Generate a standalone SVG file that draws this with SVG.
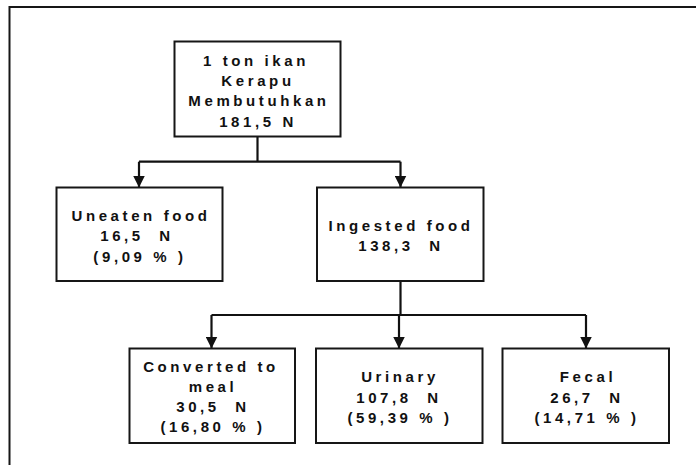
<svg xmlns="http://www.w3.org/2000/svg" width="696" height="465" viewBox="0 0 696 465">
<style>
.box{fill:#fff;stroke:#161616;stroke-width:2}
.frame{fill:none;stroke:#161616;stroke-width:2}
.con{fill:none;stroke:#111;stroke-width:2.2}
text{font-family:"Liberation Sans",Arial,sans-serif;font-size:15px;font-weight:bold;fill:#111;text-anchor:middle;letter-spacing:3.6px;white-space:pre}
</style>
<defs>
<marker id="arr" markerUnits="userSpaceOnUse" markerWidth="12" markerHeight="12" viewBox="0 0 12 12" refX="12" refY="6" orient="auto">
<path d="M0,0 L12,6 L0,12 Z" fill="#111"/>
</marker>
</defs>
<rect width="696" height="465" fill="#fff"/>
<path class="frame" d="M696,7 L9.5,7 L9.5,465"/>
<g id="connectors">
<path class="con" d="M257.5,137 V161.7"/>
<path class="con" d="M139,161.7 H400.5"/>
<path class="con" d="M139,161.7 V187.5" marker-end="url(#arr)"/>
<path class="con" d="M400.5,161.7 V187.5" marker-end="url(#arr)"/>
<path class="con" d="M400.5,281 V315"/>
<path class="con" d="M211.5,315 H586"/>
<path class="con" d="M211.5,315 V348.5" marker-end="url(#arr)"/>
<path class="con" d="M399,315 V348.5" marker-end="url(#arr)"/>
<path class="con" d="M586,315 V348.5" marker-end="url(#arr)"/>
</g>
<g id="node-top">
<rect class="box" x="174.5" y="41.5" width="166" height="95"/>
<text x="256" y="65.5">1 ton ikan</text>
<text x="258" y="86">Kerapu</text>
<text x="259" y="106.3">Membutuhkan</text>
<text x="258" y="126.6">181,5 N</text>
</g>
<g id="node-uneaten">
<rect class="box" x="56.5" y="187.5" width="166" height="93.5"/>
<text x="141" y="220.7">Uneaten food</text>
<text x="137" y="241" xml:space="preserve">16,5  N</text>
<text x="140" y="261.7" xml:space="preserve">(9,09 % )</text>
</g>
<g id="node-ingested">
<rect class="box" x="317" y="187.5" width="166.5" height="93.5"/>
<text x="401" y="231">Ingested food</text>
<text x="401" y="251" xml:space="preserve">138,3  N</text>
</g>
<g id="node-converted">
<rect class="box" x="129.5" y="348.5" width="165.5" height="94.5"/>
<text x="211" y="371.7">Converted to</text>
<text x="213" y="392.3">meal</text>
<text x="213" y="412.3" xml:space="preserve">30,5  N</text>
<text x="213" y="432.3" xml:space="preserve">(16,80 % )</text>
</g>
<g id="node-urinary">
<rect class="box" x="316" y="348.5" width="166.5" height="94.5"/>
<text x="400" y="382.3">Urinary</text>
<text x="399" y="402.7" xml:space="preserve">107,8  N</text>
<text x="400" y="422.7" xml:space="preserve">(59,39 % )</text>
</g>
<g id="node-fecal">
<rect class="box" x="502.5" y="348.5" width="166.5" height="94.5"/>
<text x="588" y="382.3">Fecal</text>
<text x="587" y="402.7" xml:space="preserve">26,7  N</text>
<text x="587" y="422.7" xml:space="preserve">(14,71 % )</text>
</g>
</svg>
